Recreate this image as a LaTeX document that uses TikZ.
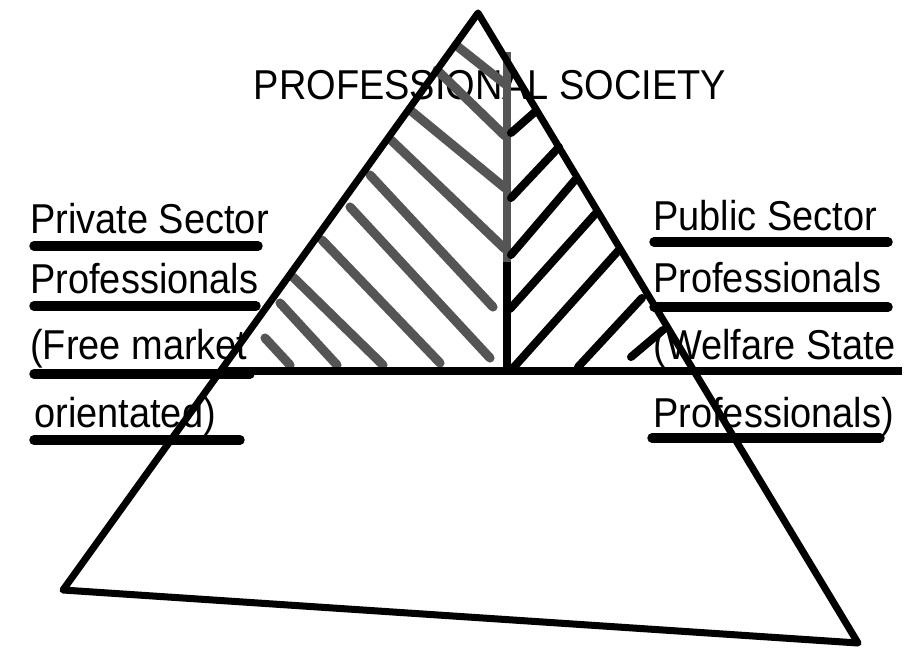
\documentclass[tikz,border=0pt]{standalone}
\usepackage{fontspec}
\usepackage{graphicx}
\setmainfont{Liberation Sans}
\definecolor{hatchgray}{HTML}{555555}
\newcommand{\tallt}[1]{\scalebox{1}[1.1]{#1}}
\begin{document}
\begin{tikzpicture}[x=0.02cm,y=-0.02cm,
  lbl/.style={font=\fontsize{21.6}{25}\selectfont, inner sep=0pt, text=black},
  edgeline/.style={line width=4pt, line join=round, line cap=round},
  uline/.style={line width=5.4pt, line cap=round},
  lhatch/.style={line width=5.2pt, draw=hatchgray, line cap=round},
  rhatch/.style={line width=4.6pt, line cap=round}]
\useasboundingbox (0,0) rectangle (905,648);
% texts
\node[lbl, anchor=base] (title) at (490,100) {\tallt{PROFESSIONAL SOCIETY}};
\node[lbl, anchor=base west] (l1) at (30,234) {\tallt{Private Sector}};
\node[lbl, anchor=base west] (l2) at (30,294) {\tallt{Professionals}};
\node[lbl, anchor=base west] (l3) at (30,359) {\tallt{(Free market}};
\node[lbl, anchor=base west] (l4) at (34,427) {\tallt{orientated)}};
\node[lbl, anchor=base west] (r1) at (653,231) {\tallt{Public Sector}};
\node[lbl, anchor=base west] (r2) at (653,293) {\tallt{Professionals}};
\node[lbl, anchor=base west] (r3) at (653,359) {\tallt{(Welfare State}};
\node[lbl, anchor=base west] (r4) at (653,427) {\tallt{Professionals)}};
% underlines
\coordinate (u1a) at (34,246); \coordinate (u1b) at (258,246);
\coordinate (u2a) at (34,306); \coordinate (u2b) at (256,306);
\coordinate (u3a) at (34,374); \coordinate (u3b) at (250,374);
\coordinate (u4a) at (34,440); \coordinate (u4b) at (240,440);
\coordinate (v1a) at (654,242); \coordinate (v1b) at (888,242);
\coordinate (v2a) at (654,307); \coordinate (v2b) at (888,307);
\coordinate (v4a) at (652,438); \coordinate (v4b) at (880,438);
\foreach \a/\b in {u1a/u1b,u2a/u2b,u3a/u3b,u4a/u4b,v1a/v1b,v2a/v2b,v4a/v4b}
  \draw[uline] (\a) -- (\b);
% left hatching
\foreach \xa/\ya/\xb/\yb in {457/46/505/84, 437/70/505/136, 410/110/505/188, 391/140/505/249,
  370/175/493/307, 350/207/490/358, 322/240/440/363, 293/277/383/365,
  280/303/337/365, 265/338/290/365}
  \draw[lhatch] (\xa,\ya) -- (\xb,\yb);
% vertical divider
\coordinate (vtop) at (507,52);
\coordinate (vmid) at (507,262);
\coordinate (vbot) at (507,372);
\draw[line width=4.4pt, draw=hatchgray] (vtop) -- (vmid);
\draw[line width=4.4pt] (vmid) -- (vbot);
% right hatching
\foreach \xa/\ya/\xb/\yb in {511/133/536/111, 511/198/559/147, 511/255/575/180,
  510/309/597/212, 514/367/618/251, 578/367/642/298, 631/357/663/330}
  \draw[rhatch] (\xa,\ya) -- (\xb,\yb);
% horizontal line
\coordinate (hl) at (220,371);
\coordinate (hr) at (902,371);
\draw[line width=4.4pt] (hl) -- (hr);
% triangle
\coordinate (apex) at (478,13);
\coordinate (bl) at (63,590);
\coordinate (br) at (858,643);
\draw[edgeline] (apex) -- (bl) -- (br) -- cycle;
\end{tikzpicture}
\end{document}
